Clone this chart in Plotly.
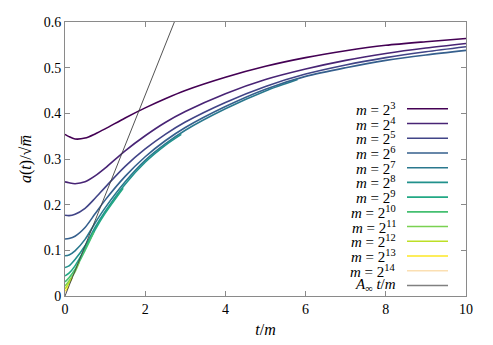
import plotly.graph_objects as go

# time grid (t/m) shared by the long runs
t_grid = [0, 0.1, 0.25, 0.5, 0.75, 1, 1.5, 2, 2.5, 3, 4, 5, 6, 7, 8, 9, 10]

# a(t)/sqrt(m)
a_m8 = [0.354, 0.349, 0.344, 0.346, 0.355, 0.366, 0.390, 0.412, 0.432, 0.450, 0.479, 0.503, 0.522, 0.537, 0.549, 0.557, 0.564]
a_m16 = [0.250, 0.248, 0.246, 0.250, 0.263, 0.280, 0.318, 0.351, 0.380, 0.404, 0.443, 0.474, 0.497, 0.516, 0.531, 0.543, 0.553]
a_m32 = [0.177, 0.176, 0.179, 0.192, 0.214, 0.238, 0.284, 0.322, 0.354, 0.381, 0.424, 0.459, 0.486, 0.506, 0.522, 0.535, 0.546]
a_m64 = [0.125, 0.126, 0.131, 0.150, 0.180, 0.210, 0.262, 0.305, 0.340, 0.369, 0.415, 0.453, 0.481, 0.500, 0.516, 0.528, 0.538]

t_m128 = [0, 0.1, 0.25, 0.5, 0.75, 1, 1.5, 2, 2.5, 3, 4, 5, 5.8]
a_m128 = [0.088, 0.090, 0.099, 0.124, 0.160, 0.193, 0.250, 0.297, 0.333, 0.363, 0.410, 0.449, 0.474]

t_m256 = [0, 0.1, 0.25, 0.5, 0.75, 1, 1.5, 2, 2.5, 2.9]
a_m256 = [0.0625, 0.066, 0.080, 0.110, 0.150, 0.185, 0.245, 0.293, 0.330, 0.354]

t_m512 = [0, 0.1, 0.25, 0.5, 0.75, 1, 1.45]
a_m512 = [0.044, 0.050, 0.066, 0.104, 0.145, 0.181, 0.236]

t_m1024 = [0, 0.1, 0.25, 0.5, 0.72]
a_m1024 = [0.031, 0.040, 0.058, 0.100, 0.140]

t_m2048 = [0, 0.1, 0.25, 0.36]
a_m2048 = [0.022, 0.033, 0.053, 0.075]

t_m4096 = [0, 0.1, 0.18]
a_m4096 = [0.0156, 0.028, 0.040]

t_m8192 = [0, 0.05, 0.09]
a_m8192 = [0.011, 0.015, 0.021]

t_m16384 = [0, 0.045]
a_m16384 = [0.0078, 0.011]

# asymptotic slope line A_inf * t/m
A_inf = 0.22
t_line = [0, 2.8]

exponents = [3, 4, 5, 6, 7, 8, 9, 10, 11, 12, 13, 14]
colors = ['#440154', '#482475', '#414487', '#355f8d', '#2a788e', '#21918c',
          '#22a884', '#44bf70', '#7ad151', '#bddf26', '#fde725', '#fbdfb2']

series = [
    (t_grid, a_m8), (t_grid, a_m16), (t_grid, a_m32), (t_grid, a_m64),
    (t_m128, a_m128), (t_m256, a_m256), (t_m512, a_m512), (t_m1024, a_m1024),
    (t_m2048, a_m2048), (t_m4096, a_m4096), (t_m8192, a_m8192), (t_m16384, a_m16384),
]

FONT = 'Liberation Serif, DejaVu Serif, serif'

fig = go.Figure()
for (tx, ay), c in zip(series, colors):
    fig.add_trace(go.Scatter(
        x=tx, y=ay, mode='lines',
        line=dict(color=c, width=1.6, shape='spline', smoothing=0.8),
        showlegend=False, hoverinfo='skip'
    ))

fig.add_trace(go.Scatter(
    x=t_line, y=[A_inf * t for t in t_line], mode='lines',
    line=dict(color='#404040', width=0.9),
    showlegend=False, hoverinfo='skip'
))

# page body has an 8px margin, so the figure is shifted by that much
PAD = 8
W, H = 493 - PAD, 345 - PAD
plot_l, plot_r, plot_t, plot_b = 65 - PAD, 466 - PAD, 15 - PAD, 296 - PAD

# gnuplot-style key: label on the left, sample line on the right
labels = ['<i>m</i> = 2<sup>%d</sup>' % e for e in exponents] + ['<i>A</i><sub>∞</sub> <i>t</i>/<i>m</i>']
key_colors = colors + ['#808080']
for i, (lab, c) in enumerate(zip(labels, key_colors)):
    py = 104 - PAD + 15.1 * i
    yp = (plot_b - py) / (plot_b - plot_t)
    fig.add_annotation(
        x=(398 - PAD - plot_l) / (plot_r - plot_l), y=yp, xref='paper', yref='paper',
        text=lab, showarrow=False, xanchor='right', yanchor='middle',
        font=dict(family=FONT, size=15, color='black')
    )
    fig.add_shape(
        type='line', xref='paper', yref='paper',
        x0=(407 - PAD - plot_l) / (plot_r - plot_l), x1=(448 - PAD - plot_l) / (plot_r - plot_l),
        y0=yp, y1=yp, line=dict(color=c, width=1.6)
    )

axis_common = dict(
    showgrid=False, zeroline=False, showline=True, linecolor='#8a8a8a', linewidth=1,
    ticks='inside', ticklen=5, tickcolor='#8a8a8a', mirror='allticks',
    tickfont=dict(family=FONT, size=14, color='black'),
    ticklabeloverflow='allow',
)

fig.update_layout(
    width=W, height=H,
    font=dict(family=FONT, size=14, color='black'),
    margin=dict(l=plot_l, r=W - plot_r, t=plot_t, b=H - plot_b),
    paper_bgcolor='white', plot_bgcolor='white',
    xaxis=dict(range=[0, 10], tickvals=[0, 2, 4, 6, 8, 10],
               title=dict(text='<i>t</i>/<i>m</i>', font=dict(family=FONT, size=16, color='black'), standoff=8),
               **axis_common),
    yaxis=dict(range=[0, 0.6001], tickvals=[0, 0.1, 0.2, 0.3, 0.4, 0.5, 0.6],
               ticktext=['0', '0.1', '0.2', '0.3', '0.4', '0.5', '0.6'],
               title=dict(text='<i>a</i>(<i>t</i>)/√<i>m\u0305</i>', font=dict(family=FONT, size=16, color='black'), standoff=8),
               **axis_common),
)

fig.write_html("out.html")
